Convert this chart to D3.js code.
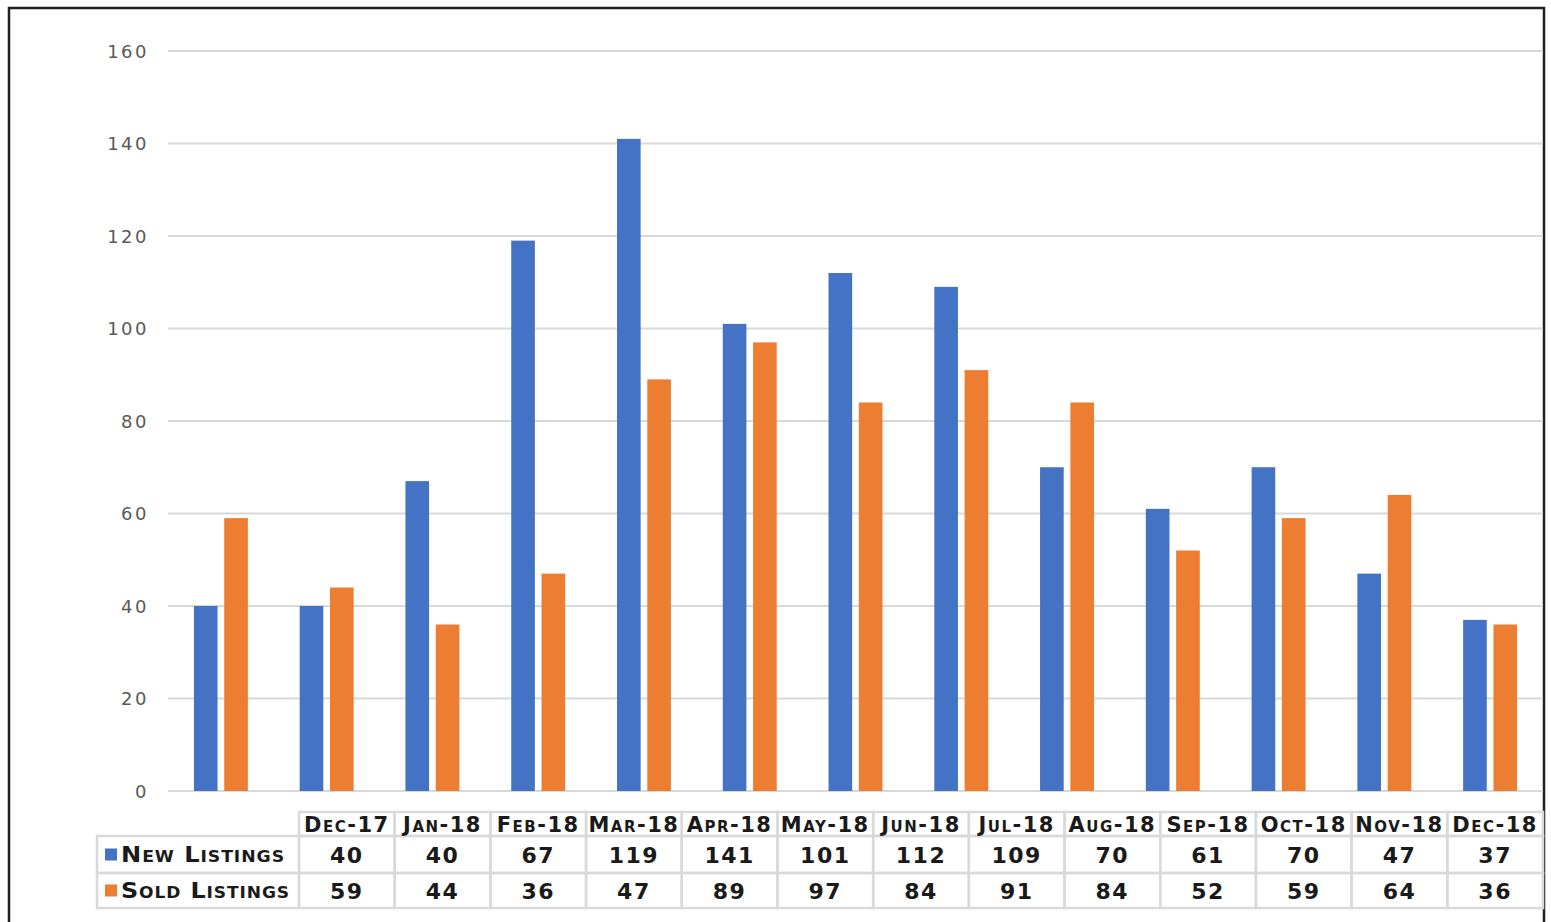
<!DOCTYPE html>
<html>
<head>
<meta charset="utf-8">
<script src="https://cdn.jsdelivr.net/npm/d3@7"></script>
<style>
  body { margin: 0; background: #fff; }
  text { font-family: "DejaVu Sans", sans-serif; }
  .tick-label { fill: #595959; font-size: 18px; letter-spacing: 2.5px; }
  .cell { fill: #1a1a1a; font-weight: bold; font-variant: small-caps; }
</style>
</head>
<body>
<svg id="chart"></svg>
<script>
const months = ["Dec-17", "Jan-18", "Feb-18", "Mar-18", "Apr-18", "May-18", "Jun-18",
                "Jul-18", "Aug-18", "Sep-18", "Oct-18", "Nov-18", "Dec-18"];
const newListings = [40, 40, 67, 119, 141, 101, 112, 109, 70, 61, 70, 47, 37];
const soldListings = [59, 44, 36, 47, 89, 97, 84, 91, 84, 52, 59, 64, 36];
const seriesNames = ["New Listings", "Sold Listings"];
const seriesColors = ["#4472C4", "#ED7D31"];
const yTicks = [0, 20, 40, 60, 80, 100, 120, 140, 160];

const width = 1551, height = 922;
const svg = d3.select("#chart").attr("width", width).attr("height", height);

// outer frame
svg.append("rect")
    .attr("x", 9).attr("y", 8)
    .attr("width", 1535).attr("height", 930)
    .attr("fill", "none")
    .attr("stroke", "#231f20")
    .attr("stroke-width", 2.5);

const plot = {left: 168, right: 1543, top: 51, bottom: 791};

const x = d3.scaleBand().domain(months).range([plot.left, plot.right]).paddingInner(0).paddingOuter(0);
const y = d3.scaleLinear().domain([0, 160]).range([plot.bottom, plot.top]);
const groupW = x.bandwidth() * 0.51;
const xs = d3.scaleBand().domain([0, 1]).range([0, groupW]).paddingInner(0.22);

// gridlines
svg.append("g")
    .selectAll("line")
    .data(yTicks)
    .join("line")
    .attr("x1", plot.left).attr("x2", plot.right)
    .attr("y1", d => y(d)).attr("y2", d => y(d))
    .attr("stroke", "#d9d9d9")
    .attr("stroke-width", 2);

svg.append("g")
    .selectAll("text")
    .data(yTicks)
    .join("text")
    .attr("class", "tick-label")
    .attr("x", 149)
    .attr("y", d => y(d))
    .attr("dy", "0.38em")
    .attr("text-anchor", "end")
    .text(d => d);

// bars
const series = [newListings, soldListings];
series.forEach((vals, si) => {
    svg.append("g")
        .selectAll("rect")
        .data(vals)
        .join("rect")
        .attr("x", (d, i) => x(months[i]) + (x.bandwidth() - groupW) / 2 + xs(si))
        .attr("y", d => y(d))
        .attr("width", xs.bandwidth())
        .attr("height", d => y(0) - y(d))
        .attr("fill", seriesColors[si]);
});

// data table (offset from the bars as in the original)
const table = {labelLeft: 97, colLeft: 299, colRight: 1543, rows: [812, 836, 873, 908]};
const tx = d3.scaleBand().domain(months).range([table.colLeft, table.colRight]);
const grid = svg.append("g").attr("stroke", "#d9d9d9").attr("stroke-width", 2.5).attr("fill", "none");

// header cells
months.forEach(m => {
    grid.append("rect")
        .attr("x", tx(m)).attr("y", table.rows[0])
        .attr("width", tx.bandwidth()).attr("height", table.rows[1] - table.rows[0]);
});
// data rows
[0, 1].forEach(r => {
    const y0 = table.rows[r + 1], y1 = table.rows[r + 2];
    grid.append("rect")
        .attr("x", table.labelLeft).attr("y", y0)
        .attr("width", table.colLeft - table.labelLeft).attr("height", y1 - y0);
    months.forEach(m => {
        grid.append("rect")
            .attr("x", tx(m)).attr("y", y0)
            .attr("width", tx.bandwidth()).attr("height", y1 - y0);
    });
});

svg.append("g")
    .selectAll("text")
    .data(months)
    .join("text")
    .attr("class", "cell")
    .attr("x", d => tx(d) + tx.bandwidth() / 2)
    .attr("y", (table.rows[0] + table.rows[1]) / 2)
    .attr("dy", "0.38em")
    .attr("text-anchor", "middle")
    .attr("font-size", 21)
    .attr("letter-spacing", 1.5)
    .text(d => d);

const legendWidths = [164, 169];
series.forEach((vals, si) => {
    const yc = (table.rows[si + 1] + table.rows[si + 2]) / 2;
    svg.append("rect")
        .attr("x", 105).attr("y", yc - 6)
        .attr("width", 12).attr("height", 12)
        .attr("fill", seriesColors[si]);
    svg.append("text")
        .attr("class", "cell")
        .attr("x", 121).attr("y", yc)
        .attr("dy", "0.38em")
        .attr("font-size", 21)
        .attr("letter-spacing", 0.8)
        .attr("textLength", legendWidths[si])
        .attr("lengthAdjust", "spacingAndGlyphs")
        .text(seriesNames[si]);
    svg.append("g")
        .selectAll("text")
        .data(vals)
        .join("text")
        .attr("class", "cell")
        .attr("x", (d, i) => tx(months[i]) + tx.bandwidth() / 2)
        .attr("y", yc)
        .attr("dy", "0.38em")
        .attr("text-anchor", "middle")
        .attr("font-size", 22)
        .attr("letter-spacing", 1.5)
        .text(d => d);
});
</script>
</body>
</html>
